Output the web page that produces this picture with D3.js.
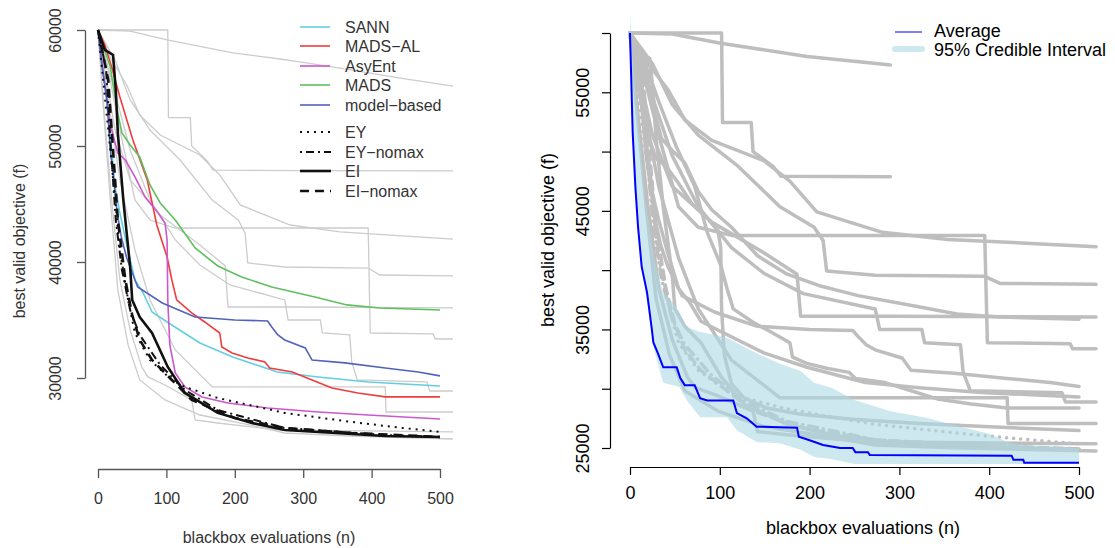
<!DOCTYPE html>
<meta charset="utf-8">
<head>
    <title>Best valid objective vs blackbox evaluations</title>
    <script src="https://d3js.org/d3.v7.min.js"></script>
    <style>
        body { margin: 0; background: #fff; }
        svg text { font-family: "Liberation Sans", Arial, Helvetica, sans-serif; }
    </style>
</head>
<body>
<svg width="1115" height="548"></svg>
<script>

    // ---- data (n = evaluations, v = best valid objective) ----
    var methods = ["SANN", "MADS-AL", "AsyEnt", "MADS", "model-based"];
    var methodColors = ["#62cfe0", "#f03c3c", "#cc58cc", "#5fc05f", "#5262bc"];
    var methodN = [
        [0, 7, 13, 20, 25, 32, 42, 54, 66, 79, 101, 149, 197, 262, 322, 395, 500],
        [0, 10, 20, 32, 51, 72, 86, 101, 108, 115, 137, 156, 178, 181, 196, 219, 244, 251, 284, 313, 342, 380, 420, 500],
        [0, 9, 18, 29, 40, 54, 69, 88, 98, 101, 102, 105, 113, 127, 152, 190, 248, 322, 395, 500],
        [0, 18, 28, 35, 47, 61, 76, 91, 113, 142, 175, 210, 254, 317, 364, 412, 500],
        [0, 6, 13, 18, 23, 28, 34, 42, 58, 94, 142, 200, 248, 254, 263, 273, 303, 313, 361, 420, 468, 500]
    ];
    var methodV = [
        [60000, 56550, 53970, 49660, 46470, 44220, 41470, 38450, 37330, 35690, 34830, 33020, 31810, 30520, 30090, 29660, 29310],
        [60000, 58710, 56810, 54220, 50520, 47070, 43190, 40430, 38450, 36730, 35610, 34830, 33880, 32670, 32160, 31730, 31380, 30860, 30520, 29830, 29140, 28710, 28370, 28370],
        [60000, 55690, 51810, 49400, 48790, 47330, 45600, 44230, 43360, 41900, 36730, 32850, 30430, 29230, 28370, 27850, 27420, 27070, 26810, 26470],
        [60000, 56810, 53100, 51120, 50090, 49050, 46640, 45090, 43620, 41210, 39660, 38710, 37850, 36980, 36300, 36040, 35860],
        [60000, 56810, 53970, 49660, 47070, 44230, 42160, 40350, 37850, 36470, 35260, 35000, 34920, 34400, 33710, 33280, 32590, 31550, 31300, 30860, 30520, 30180]
    ];

    var crits = ["EY", "EY\u2212nomax", "EI", "EI\u2212nomax"];
    var critN = [
        [0, 18, 32, 44, 54, 76, 108, 127, 175, 273, 371, 444, 500],
        [0, 12, 18, 26, 35, 47, 61, 91, 127, 175, 273, 420, 500],
        [0, 10, 22, 26, 29, 37, 47, 50, 61, 79, 102, 127, 175, 225, 273, 347, 420, 500],
        [0, 15, 22, 29, 40, 50, 61, 79, 108, 137, 200, 273, 371, 500]
    ];
    var critV = [
        [60000, 49660, 41040, 36730, 33880, 31550, 29830, 29230, 28280, 26990, 26210, 25700, 25350],
        [60000, 56550, 50520, 43620, 39310, 35860, 33710, 31120, 28970, 27240, 25690, 25090, 24920],
        [60000, 58280, 57850, 54830, 51120, 45350, 39570, 36730, 35260, 33880, 30950, 28710, 26990, 26120, 25520, 25260, 25000, 24920],
        [60000, 55690, 49660, 43620, 38450, 35430, 33280, 31550, 29830, 28110, 26550, 25690, 25260, 24920]
    ];

    // other runs, drawn gray
    var grayN = [
        [0, 47, 101, 197, 266, 290, 354, 442, 519],
        [0, 102, 103, 135, 137, 160, 168, 290, 519],
        [0, 20, 42, 61, 91, 149, 178, 208, 281, 354, 519],
        [0, 25, 47, 76, 120, 167, 205, 215, 219, 273, 395, 412, 519],
        [0, 10, 25, 47, 91, 149, 186, 190, 295, 519],
        [0, 15, 32, 54, 76, 113, 395, 398, 490, 493, 519],
        [0, 20, 47, 76, 113, 149, 193, 273, 278, 325, 328, 368, 371, 379, 481, 485, 519],
        [0, 15, 32, 54, 76, 113, 167, 420, 421, 519],
        [0, 10, 20, 32, 47, 64, 73, 98, 137, 142, 175, 263, 519],
        [0, 7, 18, 29, 44, 61, 98, 149, 222, 273, 368, 519]
    ];
    var grayV = [
        [60000, 59910, 59140, 58020, 57500, 57300, 56720, 55860, 55170],
        [60000, 60000, 52450, 52450, 50000, 48700, 47920, 47870, 47850],
        [60000, 57410, 55260, 52670, 50950, 49230, 47500, 44920, 43190, 42590, 41980],
        [60000, 57410, 53970, 51380, 48790, 45350, 43620, 42500, 39920, 39570, 39480, 38880, 38800],
        [60000, 56550, 51380, 47070, 44050, 41470, 39660, 36120, 36120, 36040],
        [60000, 56550, 51380, 45350, 43620, 42930, 42930, 33880, 33800, 33360, 33360],
        [60000, 55690, 49660, 45350, 41900, 39740, 38020, 36730, 35000, 35000, 33880, 33710, 31380, 29830, 29660, 28880, 28880],
        [60000, 53970, 47070, 41040, 36730, 32420, 29230, 29230, 27070, 27070],
        [60000, 52240, 45350, 38450, 34140, 30950, 30090, 29400, 28110, 26380, 26120, 25520, 25350],
        [60000, 53970, 45350, 37590, 32850, 29830, 28110, 26810, 25950, 25260, 25000, 24740]
    ];
    var grayRightEnd = [290, 290, 519, 519, 519, 519, 519, 519, 519, 519];

    // average and 95% credible interval (right panel)
    var avgN = [0, 3, 6, 9, 13, 19, 24, 26, 31, 37, 52, 56, 61, 72, 78, 86, 115, 119, 130, 141, 186, 188, 200, 215, 234, 248, 251, 265, 267, 425, 427, 438, 439, 500];
    var avgV = [60000, 51600, 47000, 43600, 40300, 38100, 35200, 33900, 33000, 31800, 31800, 30900, 30300, 30300, 29200, 29000, 29000, 27950, 27500, 26800, 26700, 25950, 25650, 25250, 25000, 25000, 24650, 24650, 24400, 24350, 24000, 24000, 23750, 23750];
    var bandN = [0, 3, 7, 12, 17, 27, 37, 48, 55, 63, 78, 108, 119, 141, 167, 190, 205, 225, 250, 290, 330, 370, 400, 420, 436, 500];
    var bandLo = [60000, 51000, 45900, 40700, 38300, 33250, 30500, 30300, 30150, 29050, 27600, 27600, 26500, 25500, 25400, 24850, 24250, 24050, 23650, 23650, 23650, 23650, 23650, 23650, 23650, 23650];
    var bandHi = [61500, 57700, 54350, 50150, 45900, 41000, 38050, 37250, 36450, 35200, 34800, 34300, 33850, 33000, 32100, 31500, 30500, 30050, 29050, 28100, 27550, 26750, 26200, 25500, 25250, 25000];

    var xTicks = [0, 100, 200, 300, 400, 500];
    var leftYTicks = [30000, 40000, 50000, 60000];
    var rightYTicks = [25000, 30000, 35000, 40000, 45000, 50000, 55000, 60000];
    var rightYLabels = [25000, 35000, 45000, 55000];

    function pts(ns, vs) {
        return ns.map(function (n, i) { return [n, vs[i]]; });
    }

    var svg = d3.select("svg");

    // ================= left panel =================
    var xL = d3.scaleLinear().domain([0, 500]).range([98, 440]);
    var yL = d3.scaleLinear().domain([30000, 60000]).range([378, 30]);
    var lineL = d3.line().x(function (d) { return xL(d[0]); }).y(function (d) { return yL(d[1]); });
    var left = svg.append("g");

    // line styles for the four criteria
    var critDash = ["2,5", "2,4,8,4", null, "9,6"];
    var critWidth = [2, 2, 2.6, 2.6];

    grayN.forEach(function (ns, i) {
        left.append("path")
            .attr("d", lineL(pts(ns, grayV[i])))
            .attr("fill", "none")
            .attr("stroke", "#cccccc")
            .attr("stroke-width", 1.3);
    });

    methodN.forEach(function (ns, i) {
        left.append("path")
            .attr("d", lineL(pts(ns, methodV[i])))
            .attr("fill", "none")
            .attr("stroke", methodColors[i])
            .attr("stroke-width", 1.6);
    });

    critN.forEach(function (ns, i) {
        left.append("path")
            .attr("d", lineL(pts(ns, critV[i])))
            .attr("fill", "none")
            .attr("stroke", "#111")
            .attr("stroke-width", critWidth[i])
            .attr("stroke-dasharray", critDash[i]);
    });

    var axYL = left.append("g")
        .attr("transform", "translate(85,0)")
        .call(d3.axisLeft(yL).tickValues(leftYTicks).tickSize(8).tickSizeOuter(0).tickFormat(d3.format("d")));
    var axXL = left.append("g")
        .attr("transform", "translate(0,469)")
        .call(d3.axisBottom(xL).tickValues(xTicks).tickSize(9).tickSizeOuter(0));

    [axYL, axXL].forEach(function (ax) {
        ax.attr("font-size", 16).attr("font-family", null);
        ax.selectAll("path, line").attr("stroke", "#555").attr("stroke-width", 1.3);
        ax.selectAll("text").attr("fill", "#333");
    });
    axYL.selectAll("text")
        .attr("transform", "rotate(-90)")
        .attr("x", 0).attr("y", -30).attr("dy", "0.35em")
        .attr("text-anchor", "middle");
    axXL.selectAll("text").attr("y", 24);

    left.append("text")
        .attr("transform", "translate(19,241) rotate(-90)")
        .attr("text-anchor", "middle").attr("dy", "0.35em")
        .attr("font-size", 16).attr("fill", "#333")
        .text("best valid objective (f)");
    left.append("text")
        .attr("x", 269).attr("y", 537).attr("dy", "0.35em")
        .attr("text-anchor", "middle")
        .attr("font-size", 16).attr("fill", "#333")
        .text("blackbox evaluations (n)");

    // legend
    var legY1 = [27, 46, 66, 85, 105];
    var legY2 = [132, 152, 171, 191];
    methods.forEach(function (m, i) {
        left.append("line")
            .attr("x1", 300).attr("x2", 330).attr("y1", legY1[i]).attr("y2", legY1[i])
            .attr("stroke", methodColors[i]).attr("stroke-width", 1.6);
        left.append("text")
            .attr("x", 345).attr("y", legY1[i]).attr("dy", "0.35em")
            .attr("font-size", 16).attr("fill", "#333")
            .text(m.replace("-", "\u2212"));
    });
    crits.forEach(function (c, i) {
        left.append("line")
            .attr("x1", 300).attr("x2", 331).attr("y1", legY2[i]).attr("y2", legY2[i])
            .attr("stroke", "#111").attr("stroke-width", critWidth[i])
            .attr("stroke-dasharray", critDash[i]);
        left.append("text")
            .attr("x", 345).attr("y", legY2[i]).attr("dy", "0.35em")
            .attr("font-size", 16).attr("fill", "#333")
            .text(c);
    });

    // ================= right panel =================
    var xR = d3.scaleLinear().domain([0, 500]).range([630, 1079]);
    var yR = d3.scaleLinear().domain([25000, 60000]).range([448, 33]);
    var lineR = d3.line().x(function (d) { return xR(d[0]); }).y(function (d) { return yR(d[1]); });
    var right = svg.append("g");

    var rightDash = ["0.1,7", "0.1,6,9,6", null, "9,6"];

    grayN.forEach(function (ns, i) {
        var p = pts(ns, grayV[i]).filter(function (d) { return d[0] <= grayRightEnd[i]; });
        right.append("path")
            .attr("d", lineR(p))
            .attr("fill", "none")
            .attr("stroke", "#bebebe")
            .attr("stroke-width", 3.5)
            .attr("stroke-linejoin", "round")
            .attr("stroke-linecap", "round");
    });
    methodN.forEach(function (ns, i) {
        right.append("path")
            .attr("d", lineR(pts(ns, methodV[i])))
            .attr("fill", "none")
            .attr("stroke", "#bebebe")
            .attr("stroke-width", 3.5)
            .attr("stroke-linejoin", "round")
            .attr("stroke-linecap", "round");
    });
    critN.forEach(function (ns, i) {
        right.append("path")
            .attr("d", lineR(pts(ns, critV[i])))
            .attr("fill", "none")
            .attr("stroke", "#bebebe")
            .attr("stroke-width", 3.5)
            .attr("stroke-linecap", "round")
            .attr("stroke-dasharray", rightDash[i]);
    });

    var band = d3.area()
        .x(function (d, i) { return xR(bandN[i]); })
        .y0(function (d, i) { return yR(bandLo[i]); })
        .y1(function (d, i) { return yR(bandHi[i]); });
    right.append("path")
        .attr("d", band(bandN))
        .attr("fill", "#add8e6")
        .attr("fill-opacity", 0.6);

    right.append("path")
        .attr("d", lineR(pts(avgN, avgV)))
        .attr("fill", "none")
        .attr("stroke", "#0000ff")
        .attr("stroke-width", 2);

    var axYR = right.append("g")
        .attr("transform", "translate(610,0)")
        .call(d3.axisLeft(yR).tickValues(rightYTicks).tickSize(8).tickSizeOuter(0)
            .tickFormat(function (d) { return rightYLabels.indexOf(d) >= 0 ? d : ""; }));
    var axXR = right.append("g")
        .attr("transform", "translate(0,467)")
        .call(d3.axisBottom(xR).tickValues(xTicks).tickSize(8).tickSizeOuter(0));

    [axYR, axXR].forEach(function (ax) {
        ax.attr("font-size", 18).attr("font-family", null);
        ax.selectAll("path, line").attr("stroke", "#000").attr("stroke-width", 1.2);
        ax.selectAll("text").attr("fill", "#000");
    });
    axYR.selectAll("text")
        .attr("transform", "rotate(-90)")
        .attr("x", 0).attr("y", -27).attr("dy", "0.35em")
        .attr("text-anchor", "middle");
    axXR.selectAll("text").attr("y", 19);

    right.append("text")
        .attr("transform", "translate(548,240) rotate(-90)")
        .attr("text-anchor", "middle").attr("dy", "0.35em")
        .attr("font-size", 18).attr("fill", "#000")
        .text("best valid objective (f)");
    right.append("text")
        .attr("x", 863).attr("y", 528).attr("dy", "0.35em")
        .attr("text-anchor", "middle")
        .attr("font-size", 18).attr("fill", "#000")
        .text("blackbox evaluations (n)");

    // legend
    right.append("line")
        .attr("x1", 895).attr("x2", 922).attr("y1", 32).attr("y2", 32)
        .attr("stroke", "#0000ff").attr("stroke-width", 1);
    right.append("line")
        .attr("x1", 895).attr("x2", 922).attr("y1", 49).attr("y2", 49)
        .attr("stroke", "#add8e6").attr("stroke-opacity", 0.6)
        .attr("stroke-width", 6).attr("stroke-linecap", "round");
    right.append("text")
        .attr("x", 934).attr("y", 37)
        .attr("font-size", 18).attr("fill", "#000")
        .text("Average");
    right.append("text")
        .attr("x", 934).attr("y", 56)
        .attr("font-size", 18).attr("fill", "#000")
        .text("95% Credible Interval");

</script>
</body>
</html>
